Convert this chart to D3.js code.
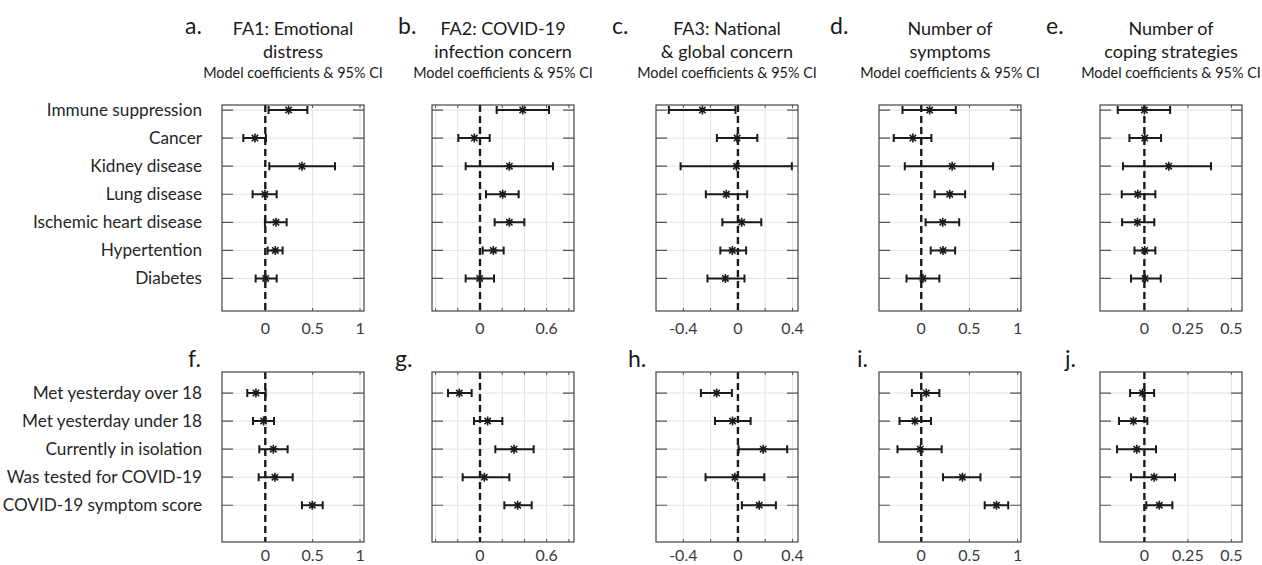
<!DOCTYPE html>
<html>
<head>
<meta charset="utf-8">
<script src="https://cdn.jsdelivr.net/npm/d3@7"></script>
<style>
  body { margin: 0; background: #fff; }
  svg { display: block; }
  text { font-family: Lato, "Open Sans", sans-serif; }
</style>
</head>
<body>
<svg id="chart" width="1262" height="565"></svg>
<script>
// ---- data -------------------------------------------------------------
const topCategories = ["Immune suppression", "Cancer", "Kidney disease", "Lung disease",
                       "Ischemic heart disease", "Hypertention", "Diabetes"];
const bottomCategories = ["Met yesterday over 18", "Met yesterday under 18", "Currently in isolation",
                          "Was tested for COVID-19", "COVID-19 symptom score"];

const titles = [["FA1: Emotional", "distress"], ["FA2: COVID-19", "infection concern"],
                ["FA3: National", "& global concern"], ["Number of", "symptoms"],
                ["Number of", "coping strategies"]];
const subtitle = "Model coefficients & 95% CI";
const topLetters = ["a.", "b.", "c.", "d.", "e."];
const bottomLetters = ["f.", "g.", "h.", "i.", "j."];

// each row: [lower CI, coefficient, upper CI]
const panelA = [[0.035, 0.246, 0.444], [-0.232, -0.109, 0.007], [0.042, 0.387, 0.736], [-0.134, -0.004, 0.12],
                [-0.004, 0.113, 0.225], [0.025, 0.106, 0.183], [-0.102, 0.004, 0.12]];
const panelB = [[0.15, 0.384, 0.621], [-0.195, -0.051, 0.087], [-0.129, 0.264, 0.657], [0.054, 0.204, 0.348],
                [0.132, 0.264, 0.399], [0.024, 0.12, 0.213], [-0.129, -0.003, 0.126]];
const panelC = [[-0.506, -0.26, -0.018], [-0.154, -0.006, 0.142], [-0.42, -0.011, 0.395], [-0.235, -0.085, 0.068],
                [-0.114, 0.028, 0.171], [-0.129, -0.041, 0.06], [-0.223, -0.092, 0.048]];
const panelD = [[-0.195, 0.087, 0.359], [-0.286, -0.087, 0.105], [-0.171, 0.321, 0.746], [0.139, 0.296, 0.456],
                [0.045, 0.223, 0.394], [0.098, 0.226, 0.352], [-0.153, 0.017, 0.188]];
const panelE = [[-0.153, 0.0, 0.148], [-0.086, 0.002, 0.096], [-0.123, 0.14, 0.383], [-0.13, -0.038, 0.063],
                [-0.128, -0.04, 0.057], [-0.057, 0.002, 0.063], [-0.077, 0.004, 0.094]];
const panelF = [[-0.19, -0.099, 0.004], [-0.13, -0.018, 0.092], [-0.063, 0.085, 0.236], [-0.07, 0.102, 0.289],
                [0.387, 0.496, 0.606]];
const panelG = [[-0.288, -0.186, -0.075], [-0.054, 0.069, 0.201], [0.138, 0.306, 0.483], [-0.156, 0.039, 0.264],
                [0.219, 0.339, 0.465]];
const panelH = [[-0.271, -0.156, -0.044], [-0.168, -0.039, 0.093], [0.005, 0.185, 0.361], [-0.237, -0.022, 0.193],
                [0.029, 0.156, 0.278]];
const panelI = [[-0.097, 0.052, 0.188], [-0.226, -0.066, 0.101], [-0.247, -0.01, 0.212], [0.226, 0.427, 0.615],
                [0.659, 0.781, 0.903]];
const panelJ = [[-0.082, -0.011, 0.056], [-0.146, -0.063, 0.017], [-0.157, -0.044, 0.067], [-0.077, 0.056, 0.176],
                [0.011, 0.086, 0.161]];

// x axis per column
const xDomains = [[-0.457, 1.042], [-0.432, 0.846], [-0.6, 0.44], [-0.439, 1.036], [-0.255, 0.561]];
const xTicks = [[0, 0.5, 1], [-0.4, -0.2, 0, 0.2, 0.4, 0.6, 0.8], [-0.4, -0.2, 0, 0.2, 0.4], [0, 0.5, 1], [0, 0.25, 0.5]];
const xTickLabels = [[0, 0.5, 1], [0, 0.6], [-0.4, 0, 0.4], [0, 0.5, 1], [0, 0.25, 0.5]];

// ---- layout -----------------------------------------------------------
const svg = d3.select("#chart");
const colLeft = [222, 432, 656, 879, 1100];
const colWidth = 142;
const rowsGeom = [
  { top: 105, bottom: 311, labelY: 328, domain: [0.82, 8.16], cats: topCategories,
    panels: [panelA, panelB, panelC, panelD, panelE],
    letters: topLetters, letterX: [185, 398, 612, 830, 1046], letterY: 34 },
  { top: 372, bottom: 542, labelY: 555, domain: [0.25, 6.31], cats: bottomCategories,
    panels: [panelF, panelG, panelH, panelI, panelJ],
    letters: bottomLetters, letterX: [188, 395, 628, 857, 1065], letterY: 367 }
];

const fmt = v => (v === 0 ? "0" : String(v));

// asterisk marker: plus + times
function asterisk(r) {
  const d = r * Math.SQRT1_2;
  return `M${-r},0L${r},0M0,${-r}L0,${r}M${-d},${-d}L${d},${d}M${-d},${d}L${d},${-d}`;
}

// titles (top row)
titles.forEach((t, c) => {
  const cx = colLeft[c] + colWidth / 2;
  const g = svg.append("g").attr("fill", "#1a1a1a").attr("text-anchor", "middle");
  g.append("text").attr("x", cx).attr("y", 35).attr("font-size", 18).text(t[0]);
  g.append("text").attr("x", cx).attr("y", 58).attr("font-size", 18).text(t[1]);
  g.append("text").attr("x", cx).attr("y", 78).attr("font-size", 14.4).text(subtitle);
});

rowsGeom.forEach(R => {
  const y = d3.scaleLinear().domain(R.domain).range([R.top, R.bottom]);
  const rowIdx = d3.range(1, R.cats.length + 1);

  // category labels
  svg.append("g").selectAll("text")
    .data(R.cats)
    .join("text")
    .attr("x", 202)
    .attr("y", (_, i) => y(i + 1))
    .attr("dy", "0.35em")
    .attr("text-anchor", "end")
    .attr("font-size", 17.2)
    .attr("fill", "#262626")
    .text(d => d);

  R.panels.forEach((data, c) => {
    const x = d3.scaleLinear().domain(xDomains[c]).range([colLeft[c], colLeft[c] + colWidth]);
    const g = svg.append("g");

    // panel letter
    svg.append("text").attr("x", R.letterX[c]).attr("y", R.letterY)
      .attr("font-size", 23).attr("fill", "#1a1a1a").text(R.letters[c]);

    // grid
    g.append("g").selectAll("line")
      .data(xTicks[c])
      .join("line")
      .attr("x1", d => x(d)).attr("x2", d => x(d))
      .attr("y1", R.top).attr("y2", R.bottom)
      .attr("stroke", "#e3e3e3").attr("stroke-width", 1);
    g.append("g").selectAll("line")
      .data(rowIdx)
      .join("line")
      .attr("x1", colLeft[c]).attr("x2", colLeft[c] + colWidth)
      .attr("y1", d => y(d)).attr("y2", d => y(d))
      .attr("stroke", "#e3e3e3").attr("stroke-width", 1);

    // y ticks (inside, both sides)
    g.append("g").selectAll("path")
      .data(rowIdx)
      .join("path")
      .attr("d", d => `M${colLeft[c]},${y(d)}h11M${colLeft[c] + colWidth},${y(d)}h-11`)
      .attr("stroke", "#555").attr("stroke-width", 1.2);

    // x ticks top and bottom
    g.append("g").selectAll("path")
      .data(xTicks[c])
      .join("path")
      .attr("d", d => `M${x(d)},${R.top}v3M${x(d)},${R.bottom}v-3`)
      .attr("stroke", "#555").attr("stroke-width", 1);

    // x tick labels
    g.append("g").selectAll("text")
      .data(xTickLabels[c])
      .join("text")
      .attr("x", d => x(d))
      .attr("y", R.labelY)
      .attr("dy", "0.35em")
      .attr("text-anchor", "middle")
      .attr("font-size", 16)
      .attr("fill", "#3a3a3a")
      .text(fmt);

    // zero line
    g.append("line")
      .attr("x1", x(0)).attr("x2", x(0))
      .attr("y1", R.top).attr("y2", R.bottom)
      .attr("stroke", "#1a1a1a").attr("stroke-width", 2.4)
      .attr("stroke-dasharray", "7,4");

    // error bars
    const eb = g.append("g").attr("stroke", "#1a1a1a").attr("fill", "none");
    eb.selectAll("path.bar")
      .data(data)
      .join("path")
      .attr("class", "bar")
      .attr("stroke-width", 2)
      .attr("d", (d, i) => {
        const yy = y(i + 1);
        return `M${x(d[0])},${yy}H${x(d[2])}M${x(d[0])},${yy - 4}v8M${x(d[2])},${yy - 4}v8`;
      });
    eb.selectAll("path.mk")
      .data(data)
      .join("path")
      .attr("class", "mk")
      .attr("stroke-width", 1.6)
      .attr("transform", (d, i) => `translate(${x(d[1])},${y(i + 1)})`)
      .attr("d", asterisk(4.5));

    // box
    g.append("rect")
      .attr("x", colLeft[c]).attr("y", R.top)
      .attr("width", colWidth).attr("height", R.bottom - R.top)
      .attr("fill", "none").attr("stroke", "#444").attr("stroke-width", 1.2);
  });
});
</script>
</body>
</html>
